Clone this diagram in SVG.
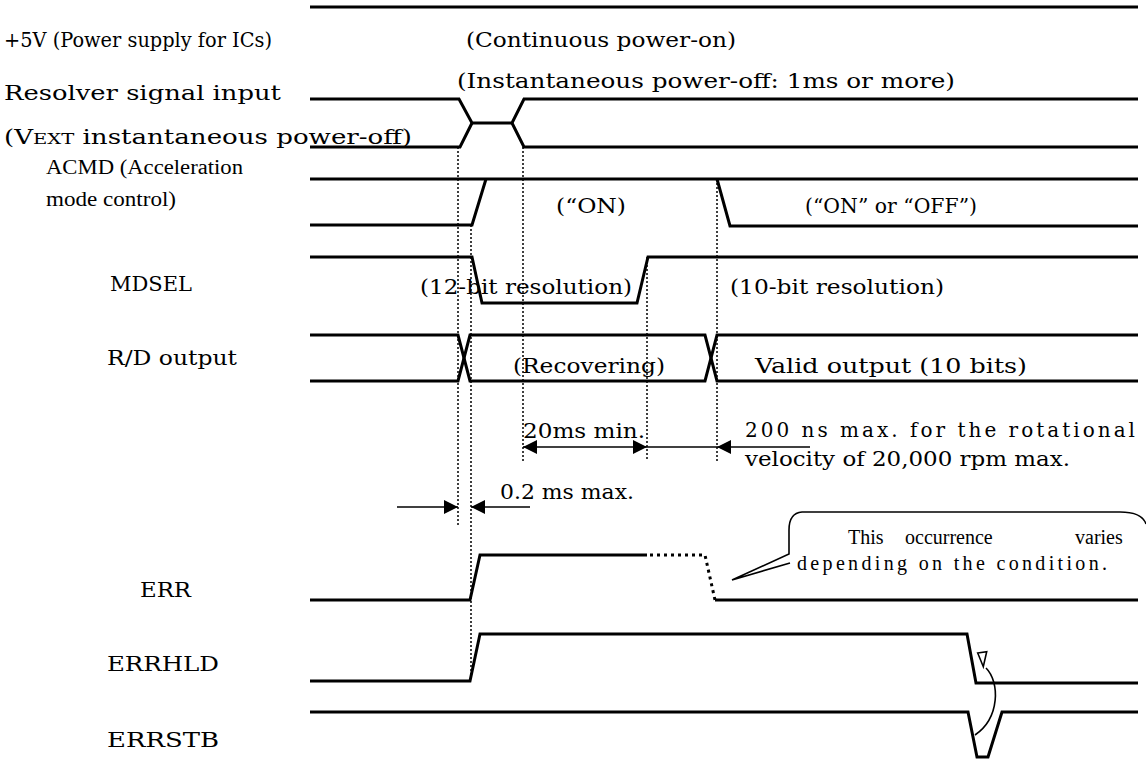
<svg xmlns="http://www.w3.org/2000/svg" width="1146" height="761" viewBox="0 0 1146 761">
<style>
.sig{fill:none;stroke:#000;stroke-width:3;stroke-linejoin:miter}
.dot{fill:none;stroke:#000;stroke-width:1.5;stroke-dasharray:2 2}
.dotb{fill:none;stroke:#000;stroke-width:3;stroke-dasharray:3 4}
.thin{fill:none;stroke:#000;stroke-width:1.6}
.t{font-family:"DejaVu Serif","Liberation Serif",serif;font-size:20px;fill:#000}
.tt{font-family:"Liberation Serif","Times New Roman",serif;font-size:20px;fill:#000}
</style>
<defs>
<marker id="ah" viewBox="0 0 10 10" refX="10" refY="5" markerWidth="17" markerHeight="14" markerUnits="userSpaceOnUse" orient="auto-start-reverse"><path d="M0,0 L10,5 L0,10 Z" fill="#000"/></marker>
</defs>
<rect width="1146" height="761" fill="#fff"/>

<g id="labels">
<text class="t" x="4" y="47" textLength="268" lengthAdjust="spacingAndGlyphs">+5V (Power supply for ICs)</text>
<text class="t" x="4" y="100" textLength="277" lengthAdjust="spacingAndGlyphs">Resolver signal input</text>
<text class="t" x="4" y="144" textLength="408" lengthAdjust="spacingAndGlyphs">(V<tspan font-size="15">EXT</tspan> instantaneous power-off)</text>
<text class="tt" x="46" y="174" textLength="197" lengthAdjust="spacingAndGlyphs">ACMD (Acceleration</text>
<text class="tt" x="46" y="206" textLength="130" lengthAdjust="spacingAndGlyphs">mode control)</text>
<text class="t" x="110" y="291" textLength="82" lengthAdjust="spacingAndGlyphs">MDSEL</text>
<text class="t" x="107" y="365" textLength="130" lengthAdjust="spacingAndGlyphs">R/D output</text>
<text class="t" x="140" y="597" textLength="51" lengthAdjust="spacingAndGlyphs">ERR</text>
<text class="t" x="107" y="671" textLength="112" lengthAdjust="spacingAndGlyphs">ERRHLD</text>
<text class="t" x="107" y="747" textLength="112" lengthAdjust="spacingAndGlyphs">ERRSTB</text>
</g>

<g id="annotations">
<text class="t" x="466" y="47" textLength="270" lengthAdjust="spacingAndGlyphs">(Continuous power-on)</text>
<text class="t" x="457" y="88" textLength="498" lengthAdjust="spacingAndGlyphs">(Instantaneous power-off: 1ms or more)</text>
<text class="t" x="556" y="213" textLength="70" lengthAdjust="spacingAndGlyphs">(“ON)</text>
<text class="t" x="805" y="213" textLength="172" lengthAdjust="spacingAndGlyphs">(“ON” or “OFF”)</text>
<text class="t" x="420" y="294" textLength="212" lengthAdjust="spacingAndGlyphs">(12-bit resolution)</text>
<text class="t" x="730" y="294" textLength="214" lengthAdjust="spacingAndGlyphs">(10-bit resolution)</text>
<text class="t" x="513" y="373" textLength="152" lengthAdjust="spacingAndGlyphs">(Recovering)</text>
<text class="t" x="755" y="373" textLength="272" lengthAdjust="spacingAndGlyphs">Valid output (10 bits)</text>
<text class="t" x="523" y="438" textLength="122" lengthAdjust="spacingAndGlyphs">20ms min.</text>
<text class="t" x="745" y="437" textLength="390" lengthAdjust="spacing">200 ns max. for the rotational</text>
<text class="t" x="745" y="466" textLength="325" lengthAdjust="spacingAndGlyphs">velocity of 20,000 rpm max.</text>
<text class="t" x="500" y="499" textLength="134" lengthAdjust="spacingAndGlyphs">0.2 ms max.</text>
</g>

<g id="sig-5v"><path class="sig" d="M310,7 H1138"/></g>
<g id="sig-resolver">
<path class="sig" d="M310,99 H459 L472,123 H512 L524,99 H1138"/>
<path class="sig" d="M310,147 H460 L472,123 M512,123 L524,147 H1138"/>
</g>
<g id="sig-acmd">
<path class="sig" d="M310,179 H1138"/>
<path class="sig" d="M310,225 H472 L486,179 M717,179 L730,226 H1138"/>
</g>
<g id="sig-mdsel"><path class="sig" d="M310,257 H472 L482,303 H637 L648,257 H1138"/></g>
<g id="sig-rd">
<path class="sig" d="M310,335 H458 L470,381 H705 L717,335 H1138"/>
<path class="sig" d="M310,381 H458 L470,335 H705 L717,381 H1138"/>
</g>
<g id="sig-err">
<path class="sig" d="M310,600 H470 L480,555 H647"/>
<path class="dotb" d="M650,555 H705 L715,600"/>
<path class="sig" d="M715,600 H1138"/>
</g>
<g id="sig-errhld"><path class="sig" d="M310,681 H470 L480,634 H967 L976,683 H1138"/></g>
<g id="sig-errstb"><path class="sig" d="M310,712 H968 L977,757 H988 L1002,712 H1138"/></g>

<g id="connectors">
<path class="dot" d="M458,147 V525"/>
<path class="dot" d="M471,225 V681"/>
<path class="dot" d="M523,147 V462"/>
<path class="dot" d="M647,257 V460"/>
<path class="dot" d="M717,179 V462"/>
<path class="thin" d="M523,447 H647" marker-start="url(#ah)" marker-end="url(#ah)"/>
<path class="thin" d="M647,447 H717"/>
<path class="thin" d="M810,447 H717" marker-end="url(#ah)"/>
<path class="thin" d="M397,507 H458" marker-end="url(#ah)"/>
<path class="thin" d="M530,507 H471" marker-end="url(#ah)"/>
<path class="thin" d="M975,735 C1000,718 1000,682 986,668"/>
<path d="M977.7,653 L986.7,651.7 L983.3,666.7 Z" fill="#fff" stroke="#000" stroke-width="1.6"/>
</g>

<g id="callout">
<path class="thin" d="M1146,524 Q1142,512 1120,512 L802,512 Q789,513 789,530 L789,554 L732,580 L790,563"/>
<text class="tt" x="848" y="544" font-size="21">This</text>
<text class="tt" x="905" y="544" font-size="21">occurrence</text>
<text class="tt" x="1075" y="544" font-size="21">varies</text>
<text class="tt" x="797" y="570" font-size="21" textLength="310" lengthAdjust="spacing">depending on the condition.</text>
</g>
</svg>
